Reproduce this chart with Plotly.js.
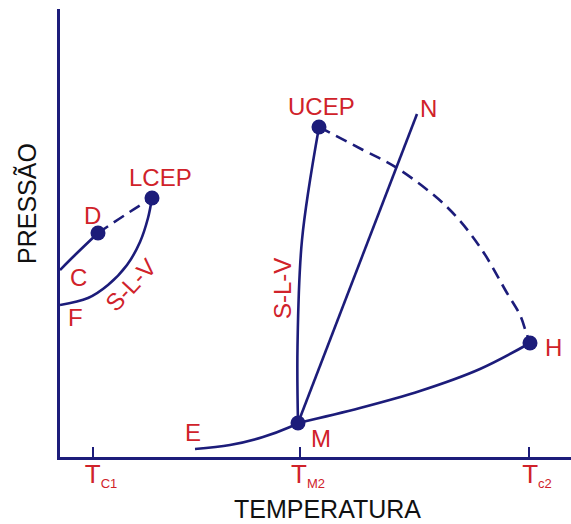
<!DOCTYPE html>
<html>
<head>
<meta charset="utf-8">
<script src="https://cdn.plot.ly/plotly-3.0.1.min.js"></script>
<style>
  html, body { margin: 0; padding: 0; background: #ffffff; }
  #chart { width: 571px; height: 524px; }
</style>
</head>
<body>
<div id="chart"></div>
<script>
// Schematic P-T phase diagram (arbitrary units: T along x, P along y)

// Low-temperature region: branch C ending at D, critical line D-LCEP, S-L-V line F-LCEP
const branchC_T = [0, 15, 38];
const branchC_P = [187, 202, 224];
const critLow_T = [38, 65, 92];
const critLow_P = [224, 242, 259];
const slvLow_T = [0, 28, 48, 67, 80, 88, 92];
const slvLow_P = [152, 159, 172, 192, 215, 239, 259];

// High-temperature region around the point M
const slvHigh_T = [238, 237.5, 242, 259];
const slvHigh_P = [34, 110, 217, 330];
const lineMN_T = [238, 357];
const lineMN_P = [34, 343];
const curveMH_T = [238, 300, 360, 420, 470];
const curveMH_P = [34, 49, 66, 88, 114];
const curveEM_T = [135, 170, 203, 230, 238];
const curveEM_P = [8, 12, 20, 30, 34];
const critHigh_T = [259, 303, 337, 387, 420, 447, 460, 466, 470];
const critHigh_P = [330, 307, 289, 250, 210, 164, 142, 125, 114];

// Marked points
const pointNames = ['D', 'LCEP', 'UCEP', 'M', 'H'];
const point_T = [38, 92, 259, 238, 470];
const point_P = [224, 259, 330, 34, 114];

// Characteristic temperatures on the T axis
const tickTemps = [33, 240, 469];
const tickNames = ['C1', 'M2', 'c2'];

const NAVY = '#1c1c7a';
const RED = '#d0222a';
const FONT = 'Liberation Sans, Arial, sans-serif';

function curve(t, p, dashed) {
  return {
    type: 'scatter', mode: 'lines', x: t, y: p, hoverinfo: 'skip',
    cliponaxis: false,
    line: { color: NAVY, width: 2.6, shape: 'spline', smoothing: 1, dash: dashed ? '12px,7px' : 'solid' }
  };
}

const traces = [
  curve(branchC_T, branchC_P, false),
  curve(critLow_T, critLow_P, true),
  curve(slvLow_T, slvLow_P, false),
  curve(slvHigh_T, slvHigh_P, false),
  curve(lineMN_T, lineMN_P, false),
  curve(curveMH_T, curveMH_P, false),
  curve(curveEM_T, curveEM_P, false),
  curve(critHigh_T, critHigh_P, true),
  {
    type: 'scatter', mode: 'markers', x: point_T, y: point_P, text: pointNames,
    cliponaxis: false, hoverinfo: 'text',
    marker: { color: NAVY, size: 15 }
  }
];

// Region and point labels: [text, T, P, angle]
const labels = [
  ['LCEP', 100, 280, 0],
  ['D', 32, 242, 0],
  ['C', 18, 180, 0],
  ['F', 15, 140, 0],
  ['S-L-V', 70, 172, -47],
  ['UCEP', 261.5, 351, 0],
  ['N', 368, 349, 0],
  ['S-L-V', 222, 168, -90],
  ['H', 493, 110, 0],
  ['E', 133, 25, 0],
  ['M', 261, 19, 0]
];

const annotations = labels.map(function (l) {
  return {
    text: l[0], x: l[1], y: l[2], xref: 'x', yref: 'y',
    showarrow: false, textangle: l[3], xanchor: 'center', yanchor: 'middle',
    font: { family: FONT, size: 24, color: RED }
  };
});

// Axis titles
annotations.push({
  text: 'TEMPERATURA', x: 0.5235, y: -0.116, xref: 'paper', yref: 'paper',
  showarrow: false, xanchor: 'center', yanchor: 'middle',
  font: { family: FONT, size: 25, color: '#111111' }
});
annotations.push({
  text: 'PRESSÃO', x: -0.0646, y: 0.567, xref: 'paper', yref: 'paper',
  showarrow: false, textangle: -90, xanchor: 'center', yanchor: 'middle',
  font: { family: FONT, size: 25, color: '#111111' }
});

const layout = {
  width: 571, height: 524,
  margin: { l: 60, r: 0, t: 9, b: 67 },
  paper_bgcolor: '#ffffff', plot_bgcolor: '#ffffff',
  showlegend: false,
  font: { family: FONT },
  xaxis: {
    range: [0, 511], showgrid: false, zeroline: false,
    showline: true, linecolor: NAVY, linewidth: 2.6,
    ticks: 'inside', ticklen: 10, tickwidth: 2.6, tickcolor: NAVY,
    tickvals: tickTemps,
    ticktext: tickNames.map(function (s) { return 'T<sub><span style="font-size:13px">' + s + '</span></sub>'; }),
    tickfont: { family: FONT, size: 26, color: RED },
    ticklabelshift: 8, ticklabelstandoff: -8,
    fixedrange: true
  },
  yaxis: {
    range: [0, 448], showgrid: false, zeroline: false,
    showline: true, linecolor: NAVY, linewidth: 2.6,
    ticks: '', showticklabels: false, fixedrange: true
  },
  annotations: annotations
};

Plotly.newPlot('chart', traces, layout, { staticPlot: true, displayModeBar: false });
</script>
</body>
</html>
